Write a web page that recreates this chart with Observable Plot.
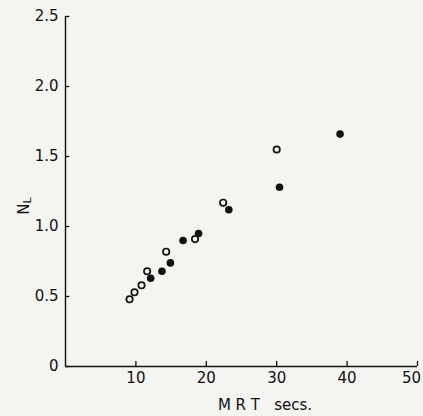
<!DOCTYPE html>
<html>
<head>
<meta charset="utf-8">
<script src="https://cdn.jsdelivr.net/npm/d3@7"></script>
<script src="https://cdn.jsdelivr.net/npm/@observablehq/plot@0.6"></script>
<style>
  html, body { margin: 0; padding: 0; background: #f4f4f1; }
  #chart svg { display: block; }
</style>
</head>
<body>
<div id="chart"></div>
<script>
const xTicks = [10, 20, 30, 40];
const xTicksEnd = [50];
const yTicks = [0, 0.5, 1, 1.5, 2, 2.5];
const yTickLabels = ["0", "0.5", "1.0", "1.5", "2.0", "2.5"];
const xLabel = "M R T   secs.";
const yLabelMain = "N";
const yLabelSub = "L";

// open circles
const openMRT = [9.1, 9.8, 10.8, 11.6, 14.3, 18.4, 22.4, 30.0];
const openNL  = [0.48, 0.53, 0.58, 0.68, 0.82, 0.91, 1.17, 1.55];
// filled circles
const filledMRT = [12.1, 13.7, 14.9, 16.7, 18.9, 23.2, 30.4, 39.0];
const filledNL  = [0.63, 0.68, 0.74, 0.90, 0.95, 1.12, 1.28, 1.66];

const openData = openMRT.map((x, i) => ({x, y: openNL[i]}));
const filledData = filledMRT.map((x, i) => ({x, y: filledNL[i]}));

const ink = "#111";
const allXTicks = xTicks.concat(xTicksEnd);

const chart = Plot.plot({
  width: 423,
  height: 416,
  marginLeft: 65,
  marginRight: 6,
  marginTop: 16,
  marginBottom: 50,
  style: {background: "#f4f4f1", fontFamily: "DejaVu Sans, sans-serif", fontSize: "15px", color: ink},
  x: {domain: [0, 50]},
  y: {domain: [0, 2.5]},
  marks: [
    Plot.axisY({ticks: yTicks, tickSize: 0, tickPadding: 7, tickFormat: d => yTickLabels[yTicks.indexOf(d)], label: null, fill: ink}),
    Plot.axisX({ticks: xTicks, tickSize: 0, tickPadding: 6, label: null, fill: ink, letterSpacing: 1}),
    Plot.axisX({ticks: xTicksEnd, tickSize: 0, tickPadding: 6, label: null, fill: ink, letterSpacing: 1, dx: -6}),
    // inward tick marks
    Plot.ruleX(allXTicks, {y1: 0, y2: 0.036, stroke: ink, strokeWidth: 1.3}),
    Plot.ruleY(yTicks, {x1: 0, x2: 0.6, stroke: ink, strokeWidth: 1.3}),
    Plot.ruleX([0], {stroke: ink, strokeWidth: 1.4}),
    Plot.ruleY([0], {stroke: ink, strokeWidth: 1.4}),
    Plot.dot(openData, {x: "x", y: "y", r: 3.2, stroke: ink, strokeWidth: 1.7, fill: "none"}),
    Plot.dot(filledData, {x: "x", y: "y", r: 3.8, fill: ink, stroke: "none"})
  ]
});

const svg = d3.select(chart);
svg.append("text")
  .attr("x", 265).attr("y", 410)
  .attr("text-anchor", "middle")
  .style("white-space", "pre")
  .style("font-size", "15px")
  .attr("fill", ink)
  .text(xLabel);

const yl = svg.append("text")
  .attr("transform", "translate(29,206) rotate(-90)")
  .attr("text-anchor", "middle")
  .style("font-size", "15px")
  .attr("fill", ink);
yl.append("tspan").text(yLabelMain);
yl.append("tspan").attr("dy", 2).style("font-size", "11px").text(yLabelSub);

document.getElementById("chart").appendChild(chart);
</script>
</body>
</html>
